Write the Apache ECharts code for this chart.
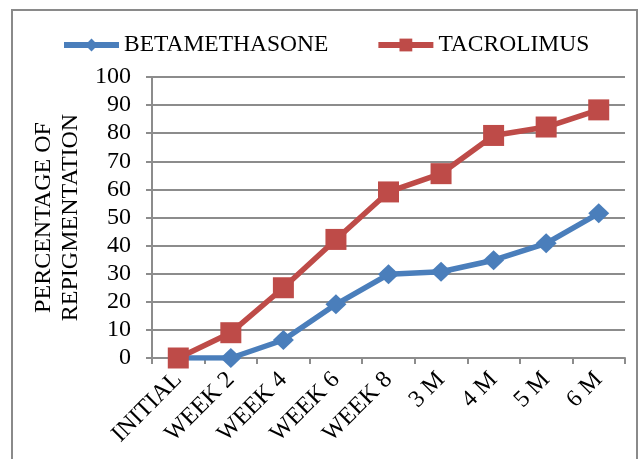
<!DOCTYPE html>
<html>
<head>
<meta charset="utf-8">
<script src="https://cdn.jsdelivr.net/npm/echarts@6/dist/echarts.min.js"></script>
<style>
  html, body { margin: 0; padding: 0; background: #fff; }
  #chart { width: 639px; height: 459px; }
</style>
</head>
<body>
<div id="chart"></div>
<script>
// Repigmentation over time for the two treatments
const categories = ['INITIAL', 'WEEK 2', 'WEEK 4', 'WEEK 6', 'WEEK 8', '3 M', '4 M', '5 M', '6 M'];
const betamethasone = [0, 0, 6.4, 19.1, 29.8, 30.7, 34.8, 40.8, 51.5];
const tacrolimus = [0, 9, 25, 42.2, 59.1, 65.6, 79.2, 82.2, 88.3];
const yTicks = { min: 0, max: 100, step: 10 };

const FONT = '"Liberation Serif", "Times New Roman", serif';
const GRAY = '#8c8c8c';

const chart = echarts.init(document.getElementById('chart'), null, { renderer: 'canvas' });

chart.setOption({
  animation: false,
  backgroundColor: '#fff',
  textStyle: { fontFamily: FONT, color: '#000' },
  graphic: [{
    type: 'rect',
    shape: { x: 12, y: 10, width: 625, height: 470 },
    style: { fill: 'none', stroke: '#8a8a8a', lineWidth: 2 },
    silent: true
  }],
  legend: {
    top: 28,
    left: 56,
    itemWidth: 55,
    itemHeight: 16,
    itemGap: 47,
    lineStyle: { width: 6 },
    textStyle: { fontFamily: FONT, fontSize: 23.5, color: '#000' },
    data: ['BETAMETHASONE', 'TACROLIMUS']
  },
  grid: { left: 152, right: 14, top: 77, bottom: 101, containLabel: false },
  xAxis: {
    type: 'category',
    data: categories,
    boundaryGap: true,
    axisLine: { lineStyle: { color: GRAY, width: 2 } },
    axisTick: { show: true, length: 6, lineStyle: { color: GRAY, width: 2 } },
    axisLabel: { rotate: 45, fontFamily: FONT, fontSize: 24, color: '#000', margin: 18, interval: 0 }
  },
  yAxis: {
    type: 'value',
    min: yTicks.min,
    max: yTicks.max,
    interval: yTicks.step,
    name: 'PERCENTAGE OF\nREPIGMENTATION',
    nameLocation: 'middle',
    nameRotate: 90,
    nameGap: 66,
    nameTextStyle: { fontFamily: FONT, fontSize: 24, color: '#000', lineHeight: 27 },
    axisLine: { show: true, lineStyle: { color: GRAY, width: 2 } },
    axisTick: { show: true, length: 6, lineStyle: { color: GRAY, width: 2 } },
    axisLabel: { fontFamily: FONT, fontSize: 24, color: '#000', margin: 21 },
    splitLine: { show: true, lineStyle: { color: GRAY, width: 2 } }
  },
  series: [
    {
      name: 'BETAMETHASONE',
      type: 'line',
      data: betamethasone,
      symbol: 'diamond',
      symbolSize: [21, 20],
      itemStyle: { color: '#4a7ebb' },
      lineStyle: { color: '#4a7ebb', width: 5.5 },
      z: 3
    },
    {
      name: 'TACROLIMUS',
      type: 'line',
      data: tacrolimus,
      symbol: 'rect',
      symbolSize: 21,
      itemStyle: { color: '#be4b48' },
      lineStyle: { color: '#be4b48', width: 5.5 },
      z: 4
    }
  ]
});
</script>
</body>
</html>
